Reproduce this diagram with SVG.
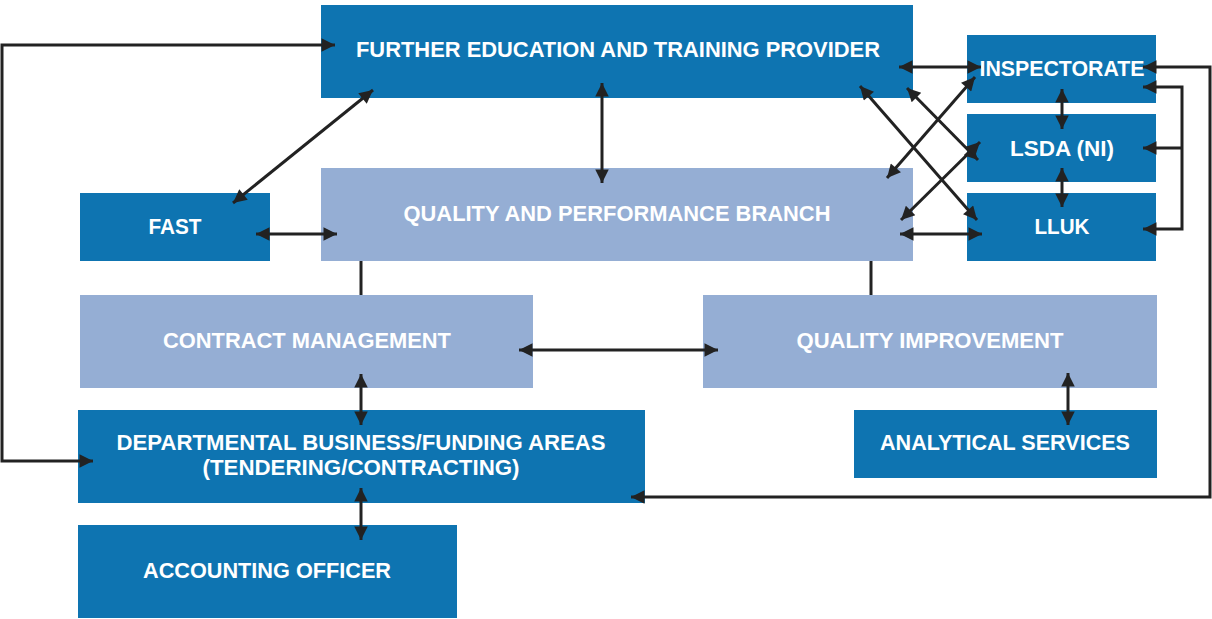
<svg xmlns="http://www.w3.org/2000/svg" width="1212" height="619" viewBox="0 0 1212 619">
<style>
.d{fill:#0e74b1}
.l{fill:#95aed4}
text{font-family:"Liberation Sans",Arial,sans-serif;font-weight:bold;font-size:22px;fill:#fff;text-anchor:middle}
.c path,.c line{stroke:#222;stroke-width:3;fill:none}
</style>
<defs>
<marker id="a" viewBox="0 0 10 10" refX="10" refY="5" markerWidth="5.5" markerHeight="4.5" markerUnits="strokeWidth" orient="auto-start-reverse"><path d="M0,0L10,5L0,10z" fill="#222"/></marker>
</defs>
<rect width="1212" height="619" fill="#fff"/>
<g id="fe"><rect class="d" x="321" y="5" width="592" height="93"/><text x="618" y="57" textLength="524" lengthAdjust="spacingAndGlyphs">FURTHER EDUCATION AND TRAINING PROVIDER</text></g>
<g id="insp"><rect class="d" x="967" y="35" width="189" height="68"/><text x="1062" y="76" textLength="165" lengthAdjust="spacingAndGlyphs">INSPECTORATE</text></g>
<g id="lsda"><rect class="d" x="967" y="114" width="189" height="68"/><text x="1062" y="156" textLength="104" lengthAdjust="spacingAndGlyphs">LSDA (NI)</text></g>
<g id="lluk"><rect class="d" x="967" y="193" width="189" height="68"/><text x="1062" y="234" textLength="55" lengthAdjust="spacingAndGlyphs">LLUK</text></g>
<g id="fast"><rect class="d" x="80" y="193" width="190" height="68"/><text x="175" y="234" textLength="53" lengthAdjust="spacingAndGlyphs">FAST</text></g>
<g id="qpb"><rect class="l" x="321" y="168" width="592" height="93"/><text x="617" y="221" textLength="427" lengthAdjust="spacingAndGlyphs">QUALITY AND PERFORMANCE BRANCH</text></g>
<g id="cm"><rect class="l" x="80" y="295" width="453" height="93"/><text x="307" y="348" textLength="288" lengthAdjust="spacingAndGlyphs">CONTRACT MANAGEMENT</text></g>
<g id="qi"><rect class="l" x="703" y="295" width="454" height="93"/><text x="930" y="348" textLength="267" lengthAdjust="spacingAndGlyphs">QUALITY IMPROVEMENT</text></g>
<g id="dept"><rect class="d" x="78" y="410" width="567" height="93"/><text x="361" y="450" textLength="489" lengthAdjust="spacingAndGlyphs">DEPARTMENTAL BUSINESS/FUNDING AREAS</text><text x="361" y="475" textLength="317" lengthAdjust="spacingAndGlyphs">(TENDERING/CONTRACTING)</text></g>
<g id="as"><rect class="d" x="854" y="410" width="303" height="68"/><text x="1005" y="450" textLength="250" lengthAdjust="spacingAndGlyphs">ANALYTICAL SERVICES</text></g>
<g id="ao"><rect class="d" x="78" y="525" width="379" height="93"/><text x="267" y="578" textLength="248" lengthAdjust="spacingAndGlyphs">ACCOUNTING OFFICER</text></g>
<g class="c">
<path d="M335,45H2V461H93" marker-start="url(#a)" marker-end="url(#a)"/>
<line x1="373" y1="90" x2="233" y2="203" marker-start="url(#a)" marker-end="url(#a)"/>
<line x1="602" y1="83" x2="602" y2="183" marker-start="url(#a)" marker-end="url(#a)"/>
<line x1="256" y1="234" x2="337" y2="234" marker-start="url(#a)" marker-end="url(#a)"/>
<line x1="361" y1="261" x2="361" y2="295"/>
<line x1="871" y1="261" x2="871" y2="295"/>
<line x1="519" y1="350" x2="718" y2="350" marker-start="url(#a)" marker-end="url(#a)"/>
<line x1="361" y1="374" x2="361" y2="425" marker-start="url(#a)" marker-end="url(#a)"/>
<line x1="361" y1="488" x2="361" y2="540" marker-start="url(#a)" marker-end="url(#a)"/>
<line x1="1068" y1="373" x2="1068" y2="425" marker-start="url(#a)" marker-end="url(#a)"/>
<line x1="899" y1="67" x2="981" y2="67" marker-start="url(#a)" marker-end="url(#a)"/>
<line x1="860" y1="86" x2="977" y2="220" marker-start="url(#a)" marker-end="url(#a)"/>
<line x1="907" y1="88" x2="978" y2="160" marker-start="url(#a)" marker-end="url(#a)"/>
<line x1="975" y1="77" x2="887" y2="178" marker-start="url(#a)" marker-end="url(#a)"/>
<line x1="980" y1="142" x2="901" y2="220" marker-start="url(#a)" marker-end="url(#a)"/>
<line x1="900" y1="234" x2="982" y2="234" marker-start="url(#a)" marker-end="url(#a)"/>
<line x1="1062" y1="89" x2="1062" y2="129" marker-start="url(#a)" marker-end="url(#a)"/>
<line x1="1062" y1="168" x2="1062" y2="207" marker-start="url(#a)" marker-end="url(#a)"/>
<path d="M1143,87H1182V229H1143" marker-start="url(#a)" marker-end="url(#a)"/>
<path d="M1182,148H1143" marker-end="url(#a)"/>
<path d="M1143,67H1210V497H631" marker-start="url(#a)" marker-end="url(#a)"/>
</g>
</svg>
